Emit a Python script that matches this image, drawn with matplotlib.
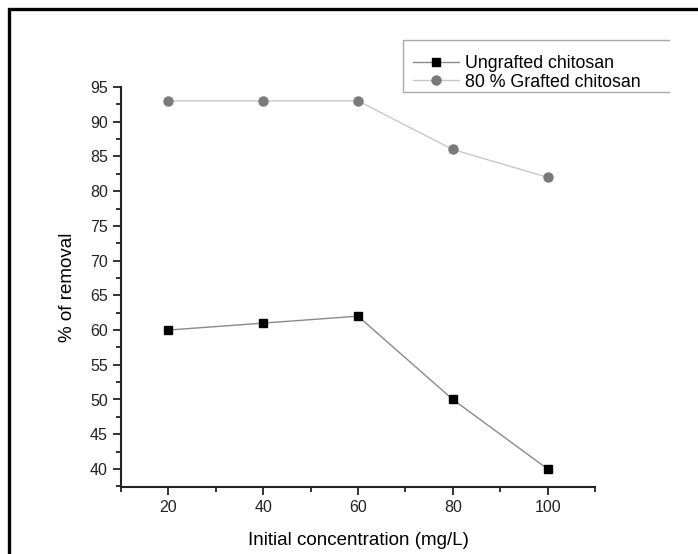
import matplotlib
matplotlib.use("Agg")
import matplotlib.pyplot as plt
from matplotlib.patches import Rectangle
from matplotlib.lines import Line2D
from matplotlib.ticker import MultipleLocator

# data
conc = [20, 40, 60, 80, 100]
ungrafted = [60, 61, 62, 50, 40]
grafted = [93, 93, 93, 86, 82]
labels = ["Ungrafted chitosan", "80 % Grafted chitosan"]

plt.rcParams['font.family'] = ['Liberation Sans', 'DejaVu Sans']

W, H = 698, 554
fig = plt.figure(figsize=(W / 100, H / 100), dpi=100)
ax = fig.add_axes([121 / W, 1 - 487 / H, (595 - 121) / W, (487 - 87) / H])

ax.plot(conc, ungrafted, color="#8a8a8a", lw=1.0, marker="s", ms=6,
        mfc="black", mec="black", label=labels[0])
ax.plot(conc, grafted, color="#c8c8c8", lw=1.0, marker="o", ms=6.5,
        mfc="#7a7a7a", mec="#7a7a7a", label=labels[1])

ax.set_xlim(10, 110)
ax.set_ylim(37.4, 95)
ax.set_xticks(conc)
ax.set_yticks(range(40, 96, 5))
ax.xaxis.set_minor_locator(MultipleLocator(10))
ax.yaxis.set_minor_locator(MultipleLocator(2.5))
ax.tick_params(which="major", length=6, width=1.3, labelsize=11.5, colors="#222222")
ax.tick_params(which="minor", length=3.5, width=1.3, colors="#222222")
for s in ["top", "right"]:
    ax.spines[s].set_visible(False)
for s in ["left", "bottom"]:
    ax.spines[s].set_linewidth(1.5)
    ax.spines[s].set_color("#222222")

ax.set_xlabel("Initial concentration (mg/L)", fontsize=13.5, labelpad=12)
ax.set_ylabel("% of removal", fontsize=13.5, labelpad=10)

leg = fig.legend(loc="upper left", bbox_to_anchor=(403 / W, 1 - 45 / H),
                 fontsize=12.8, frameon=False, borderaxespad=0,
                 handlelength=2.6, handletextpad=0.35, labelspacing=0.1,
                 borderpad=0.55)

# legend box: the source image is cut on the right, so no right border
x0, x1 = 403 / W, 669 / W
y0, y1 = 1 - 92 / H, 1 - 40 / H
fig.add_artist(Line2D([x1, x0, x0, x1], [y1, y1, y0, y0], transform=fig.transFigure,
                      color="#aaaaaa", lw=1.0))

# outer border (only left and top visible in the source)
fig.add_artist(Rectangle((9 / W, -0.1), 1.2, 1.1 - 9.5 / H, transform=fig.transFigure,
                         fill=False, lw=2.4, ec="black"))

fig.savefig("out.png", dpi=100)
